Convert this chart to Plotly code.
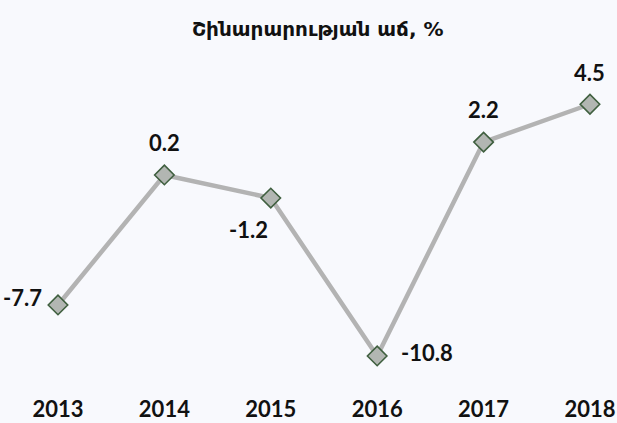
import plotly.graph_objects as go

years = [2013, 2014, 2015, 2016, 2017, 2018]
growth = [-7.7, 0.2, -1.2, -10.8, 2.2, 4.5]
year_labels = ["2013", "2014", "2015", "2016", "2017", "2018"]
title_text = "Շինարարության աճ, %"

# label offsets (px) relative to each point
offsets = [(-35, 7), (0, 32), (-22, -31), (50, 3), (0, 33), (0, 32)]

bg = "#f8f9fd"

fig = go.Figure()

fig.add_trace(
    go.Scatter(
        x=years,
        y=growth,
        mode="lines+markers",
        line=dict(color="#b3b3b3", width=4.5),
        marker=dict(
            symbol="diamond",
            size=15,
            color="#b2b6b2",
            line=dict(color="#3f5f3f", width=1.6)
        ),
        hoverinfo="skip"
    )
)

annotations = []
for x, y, (dx, dy) in zip(years, growth, offsets):
    annotations.append(
        dict(
            x=x,
            y=y,
            text=f"<b>{y:.1f}</b>",
            showarrow=False,
            xshift=dx,
            yshift=dy,
            font=dict(family="Lato", size=22, color="#111111"),
        )
    )

fig.update_layout(
    width=617,
    height=423,
    paper_bgcolor=bg,
    plot_bgcolor=bg,
    showlegend=False,
    margin=dict(l=0, r=0, t=60, b=33),
    title=dict(
        text=f"<b>{title_text}</b>",
        x=0.515,
        xanchor="center",
        y=0.932,
        yanchor="middle",
        font=dict(family="DejaVu Sans", size=20, color="#111111"),
    ),
    font=dict(family="Lato", color="#111111"),
    annotations=annotations,
    xaxis=dict(
        range=[2012.455, 2018.254],
        tickmode="array",
        tickvals=years,
        ticktext=[f"<b>{t}</b>" for t in year_labels],
        tickfont=dict(family="Lato", size=22, color="#111111"),
        ticklabelstandoff=4,
        showgrid=False,
        zeroline=False,
        showline=False,
        ticks="",
    ),
    yaxis=dict(
        range=[-12.87, 7.19],
        visible=False,
    ),
)

fig.write_html(
    "out.html",
    config={"displayModeBar": False},
    post_script="document.body.style.margin='0';document.body.style.overflow='hidden';",
)
